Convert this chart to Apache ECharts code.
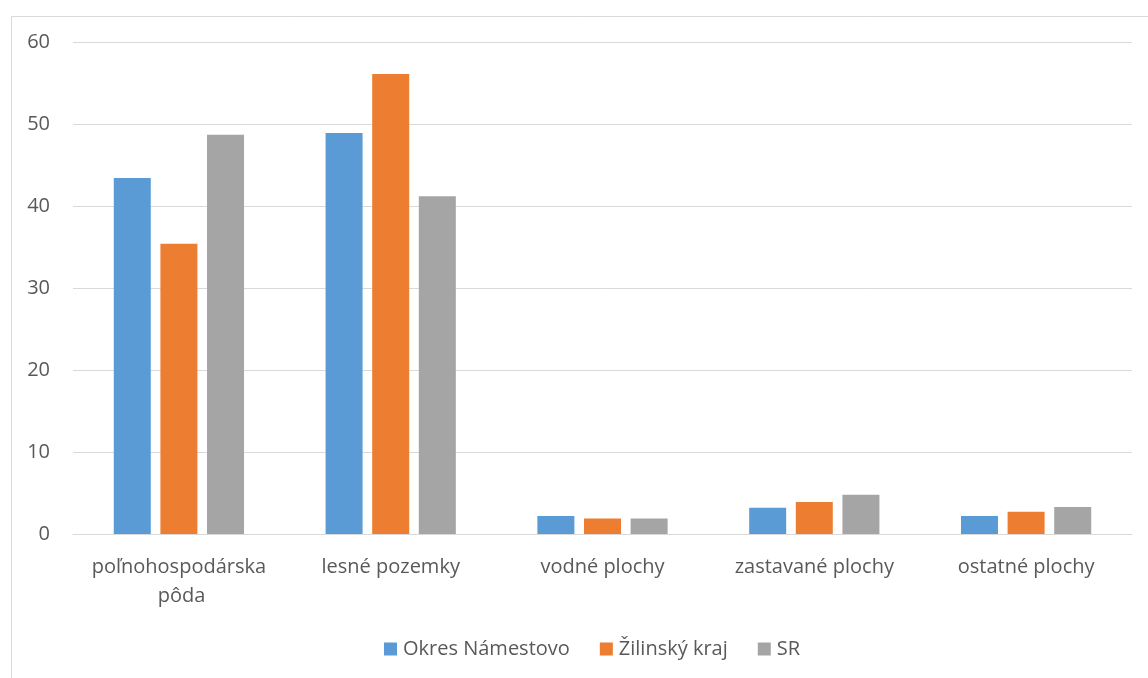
<!DOCTYPE html>
<html><head><meta charset="utf-8">
<script src="https://cdn.jsdelivr.net/npm/echarts@6/dist/echarts.min.js"></script>
<style>html,body{margin:0;padding:0;background:#fff}#c{width:1148px;height:678px}</style>
</head><body><div id="c"></div>
<script>
const categories = ['poľnohospodárska pôda', 'lesné pozemky', 'vodné plochy', 'zastavané plochy', 'ostatné plochy'];
const seriesNames = ['Okres Námestovo', 'Žilinský kraj', 'SR'];
const okres = [43.4, 48.9, 2.2, 3.2, 2.2];
const kraj = [35.4, 56.1, 1.9, 3.9, 2.7];
const sr = [48.7, 41.2, 1.9, 4.8, 3.3];
const yTicks = [0, 10, 20, 30, 40, 50, 60];
const colors = ['#5B9BD5', '#ED7D31', '#A5A5A5'];

const chart = echarts.init(document.getElementById('c'), null, {renderer: 'canvas'});
const font = 'Open Sans';
const fs = 20;
const mk = (name, data, i) => ({
  name, type: 'bar', data, barWidth: 37, barGap: '26%',
  itemStyle: {color: colors[i]}
});
chart.setOption({
  animation: false,
  color: colors,
  textStyle: {fontFamily: font},
  graphic: [{
    type: 'rect', left: 9, top: 14, silent: true,
    shape: {width: 1300, height: 800},
    style: {fill: 'none', stroke: '#D9D9D9', lineWidth: 1}
  }],
  grid: {left: 73, right: 16, top: 42, height: 492},
  legend: {
    bottom: 14, left: 379, itemWidth: 13, itemHeight: 13, itemGap: 30,
    icon: 'rect',
    textStyle: {color: '#595959', fontSize: fs, fontFamily: font, padding: [0, 0, 0, 1]},
    data: seriesNames
  },
  xAxis: {
    type: 'category', data: categories,
    axisLine: {lineStyle: {color: '#D9D9D9', width: 1}},
    axisTick: {show: false},
    axisLabel: {color: '#595959', fontSize: fs, fontFamily: font, margin: 19, lineHeight: 29,
      width: 200, overflow: 'break', interval: 0}
  },
  yAxis: {
    type: 'value', min: yTicks[0], max: yTicks[yTicks.length - 1], interval: 10,
    axisLine: {show: false}, axisTick: {show: false},
    axisLabel: {color: '#595959', fontSize: fs, fontFamily: font, margin: 23},
    splitLine: {lineStyle: {color: '#D9D9D9', width: 1}}
  },
  series: [mk(seriesNames[0], okres, 0), mk(seriesNames[1], kraj, 1), mk(seriesNames[2], sr, 2)]
});
</script></body></html>
